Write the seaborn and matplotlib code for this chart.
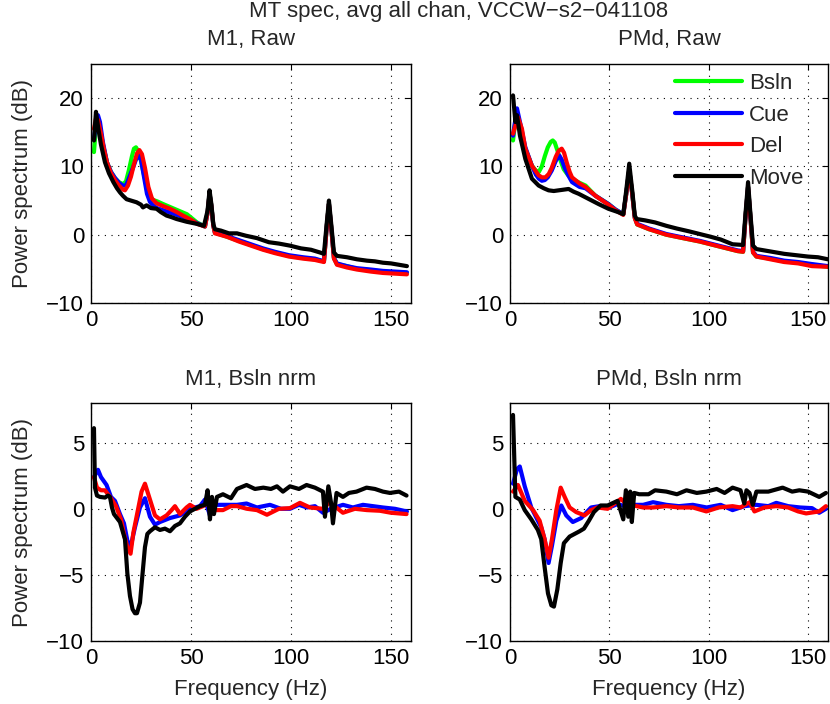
import seaborn as sns
import matplotlib
matplotlib.use('Agg')
import matplotlib.pyplot as plt

sns.set_style('white')
plt.rcParams['font.family'] = ['Liberation Sans', 'DejaVu Sans']
plt.rcParams['font.size'] = 16


# ---- series names / colours
names = ['Bsln', 'Cue', 'Del', 'Move']
colors = {'Bsln': '#00ff00', 'Cue': '#0000ff', 'Del': '#ff0000', 'Move': '#000000'}

# ---- M1, Raw  (freq in Hz, power in dB)
raw_tail_f = [57, 58.3, 59.3, 60.2, 61.2, 62, 68, 74, 80, 86, 92, 99, 106, 112, 116.5, 118, 119, 120, 121.5,
              123, 128, 133, 140, 146, 152, 158]

m1_raw_bsln_f = [1.5, 2.5, 3, 4, 5, 6.5, 8, 10, 12, 14, 16, 17.5, 19, 20.5, 21.5, 22.5, 23.5, 25, 26.5, 28, 29.5,
                 31, 33, 36, 40, 44, 48, 53] + raw_tail_f
m1_raw_bsln_v = [12.1, 16.0, 17.5, 16.5, 14.5, 12.5, 10.6, 9.2, 8.3, 7.7, 7.4, 7.8, 9.5, 11.5, 12.6, 12.8, 12.3, 10.8,
                 8.8, 6.8, 5.6, 5.1, 4.9, 4.5, 4.0, 3.5, 3.0, 1.8,
                 1.2, 3.2, 6.0, 4.2, 1.3, 0.3, -0.3, -0.9, -1.5, -2.1, -2.6, -3.1, -3.4, -3.6, -3.9, 1.5, 4.5, 1.5,
                 -3.4, -4.3, -4.6, -5.0, -5.2, -5.4, -5.5, -5.6]

m1_raw_cue_f = [1.5, 2.5, 3.5, 4.5, 6, 8, 10, 12, 14, 16, 17.5, 19, 21, 22.5, 24, 25, 26.5, 28, 29.5, 31, 33, 37,
                42, 46, 50, 53] + raw_tail_f
m1_raw_cue_v = [14.0, 16.5, 17.5, 16.5, 13.5, 10.6, 9.2, 8.3, 7.6, 7.2, 7.2, 8.3, 9.8, 11.0, 11.6, 11.0, 8.5, 6.0,
                4.8, 4.3, 3.9, 3.5, 3.0, 2.6, 2.1, 1.7,
                1.2, 3.2, 6.0, 4.2, 1.3, 0.3, -0.2, -0.8, -1.4, -2.0, -2.5, -3.0, -3.3, -3.5, -3.9, 1.5, 4.5, 1.5,
                -3.4, -4.2, -4.6, -4.9, -5.1, -5.3, -5.4, -5.5]

m1_raw_del_f = [1.5, 2.5, 3.5, 5, 6.5, 8, 10, 12, 14, 16, 17, 18.5, 20, 21.5, 23, 24.2, 25.5, 27, 28.7, 30.5, 32.8,
                36, 39.5, 43, 46, 50, 53] + raw_tail_f
m1_raw_del_v = [15.5, 17.0, 16.8, 14.8, 12.5, 10.6, 9.0, 8.0, 7.2, 6.6, 6.5, 7.2, 8.5, 10.3, 11.9, 12.4, 11.8, 9.8,
                7.0, 5.3, 4.6, 4.2, 3.8, 3.3, 2.8, 2.2, 1.6,
                1.2, 3.2, 6.0, 4.2, 1.3, 0.2, -0.3, -1.0, -1.6, -2.2, -2.7, -3.2, -3.5, -3.7, -4.0, 1.5, 4.5, 1.5,
                -3.5, -4.4, -4.8, -5.1, -5.4, -5.6, -5.7, -5.8]

m1_raw_move_f = [1.5, 2.5, 3.7, 5, 7, 9, 11.2, 13, 14.5, 16, 17.8, 20, 22.8, 25, 26, 27.8, 30, 32.8, 35, 37.8, 40,
                 42.8, 47.8, 52.8, 56.5, 58.3, 59.3, 60.2, 61.2, 62, 65, 69, 73, 77.5, 83, 89, 94, 99.5, 105, 110,
                 114.5, 116.5, 118, 119, 120, 121.5, 123, 128, 133, 138, 142, 146, 150, 154, 158]
m1_raw_move_v = [13.8, 18.0, 15.5, 13.2, 10.6, 9.0, 7.7, 6.8, 6.2, 5.7, 5.2, 5.0, 4.75, 4.4, 4.0, 4.3, 3.9, 3.8,
                 3.3, 2.8, 2.6, 2.3, 1.9, 1.6, 1.3, 3.5, 6.5, 4.5, 1.5, 0.8, 0.6, 0.2, 0.2, -0.15, -0.5, -1.1, -1.3,
                 -1.6, -2.0, -2.2, -2.6, -2.8, 2.0, 5.0, 2.0, -2.6, -3.1, -3.3, -3.6, -3.8, -3.9, -4.1, -4.2, -4.4,
                 -4.6]

# ---- PMd, Raw
pmd_tail_f = [57, 58.5, 60, 61.5, 62.8, 64, 70, 78.7, 87, 95.5, 105, 114.6, 117.3, 118.5, 119.8, 121, 122.3, 124,
              131, 138, 145, 152, 160]

pmd_raw_bsln_f = [1.5, 3, 5, 7.7, 11, 13, 14.5, 16, 17.5, 19, 20.5, 21.5, 22.5, 24, 25.5, 27, 29, 31, 35, 38, 43,
                  49.5, 53] + pmd_tail_f
pmd_raw_bsln_v = [13.8, 17.5, 15.5, 12.6, 10.1, 9.4, 9.2, 10.0, 11.5, 12.8, 13.6, 13.8, 13.5, 12.2, 10.8, 9.6, 8.8,
                  8.2, 7.6, 7.2, 5.7, 4.5, 3.7,
                  3.0, 6.0, 9.5, 6.0, 2.5, 1.5, 0.8, 0.0, -0.5, -1.0, -1.7, -2.4, -2.5, 2.5, 7.0, 2.5, -2.6, -3.2,
                  -3.5, -3.9, -4.1, -4.4, -4.7]

pmd_raw_cue_f = [1.5, 3.5, 5, 7.7, 11, 13, 14.5, 16, 17.5, 19, 21, 23, 24.8, 26, 27.5, 29.5, 31.2, 35, 38, 43, 49.5,
                 53] + pmd_tail_f
pmd_raw_cue_v = [14.5, 18.5, 16.5, 12.8, 10.1, 8.8, 8.2, 7.9, 8.0, 8.4, 9.4, 10.8, 11.6, 11.0, 9.8, 8.6, 7.7, 7.0,
                 6.8, 5.7, 4.5, 3.7,
                 3.0, 6.0, 9.5, 6.0, 2.5, 1.6, 0.9, 0.1, -0.4, -0.9, -1.6, -2.3, -2.4, 2.5, 7.0, 2.5, -2.5, -3.1,
                 -3.4, -3.8, -4.0, -4.3, -4.6]

pmd_raw_del_f = [1.5, 4, 6, 7.7, 11, 14.4, 16, 17.8, 19.5, 21, 23, 24.5, 26, 27.2, 28.5, 30, 31.2, 35, 38, 43, 49.5,
                 53] + pmd_tail_f
pmd_raw_del_v = [14.8, 17.2, 15.5, 12.6, 10.1, 8.7, 8.4, 8.4, 8.9, 9.8, 11.4, 12.3, 12.6, 12.0, 10.6, 9.2, 8.4, 7.5,
                 7.0, 5.7, 4.4, 3.6,
                 2.9, 6.0, 9.5, 6.0, 2.4, 1.5, 0.8, 0.0, -0.5, -1.0, -1.7, -2.4, -2.5, 2.5, 7.0, 2.5, -2.6, -3.2,
                 -3.6, -4.0, -4.2, -4.6, -4.7]

pmd_raw_move_f = [1.5, 2.7, 3.5, 5, 7.7, 11, 14.4, 17, 19.4, 22, 24.5, 27, 29.5, 32, 34.5, 39.5, 44.5, 49.5, 54.5,
                  57, 58.5, 60, 61.5, 62.8, 63.7, 68, 73, 78.7, 84, 90, 95.5, 101, 106, 112, 117.3, 118.5, 119.8,
                  121, 122.3, 124, 130, 138, 144, 150, 155, 160]
pmd_raw_move_v = [20.4, 16.5, 17.5, 14.5, 11.1, 8.2, 7.2, 6.8, 6.5, 6.4, 6.5, 6.6, 6.7, 6.3, 6.0, 5.25, 4.5, 3.8,
                  3.3, 3.0, 6.5, 10.4, 6.5, 2.8, 2.3, 2.1, 1.8, 1.3, 0.9, 0.5, 0.1, -0.3, -0.7, -1.4, -1.5, 3.0,
                  7.7, 3.0, -1.6, -2.1, -2.4, -2.8, -3.0, -3.2, -3.3, -3.6]

# ---- M1, Bsln nrm
m1_nrm_cue_f = [1.5, 3.5, 5, 7.8, 10, 12, 14.5, 16.5, 18.2, 19.8, 22, 24.5, 27, 29.5, 32, 34.5, 39.5, 44.5, 49.5,
                54.5, 57, 59.5, 62, 66, 73, 77.8, 83, 89.5, 95, 99.5, 104, 108, 112, 116, 120, 126, 131, 136, 141,
                146, 152, 158]
m1_nrm_cue_v = [2.4, 2.95, 2.4, 1.8, 0.9, 0.6, -0.4, -1.1, -2.4, -2.9, -1.4, 0.1, 0.8, -0.6, -1.2, -1.0, -0.7, -0.5,
                0.0, 0.2, 0.7, -0.5, 0.3, 0.3, 0.3, 0.4, 0.1, 0.3, 0.0, 0.0, 0.3, 0.1, 0.2, -0.3, 0.0, 0.3, 0.1,
                0.3, 0.2, 0.1, 0.0, -0.2]

m1_nrm_del_f = [1.5, 3, 5, 7, 10, 12.5, 15, 16.8, 18.2, 19.8, 21.2, 22.8, 25.3, 27, 29.5, 32, 34.5, 37.8, 40.3, 42,
                44.5, 47.8, 49.5, 52.8, 56, 59.5, 62, 66, 70, 73, 78, 83, 88, 94, 99.5, 104.5, 109.5, 116, 119, 121,
                126, 132, 138, 144.5, 150, 157.8]
m1_nrm_del_v = [2.4, 1.6, 1.4, 1.4, 0.8, 0.2, -0.8, -2.1, -2.9, -3.4, -1.8, -0.6, 1.3, 1.9, 0.7, -0.5, -0.8, -0.5,
                -0.1, 0.2, -0.4, 0.1, 0.3, 0.0, 0.2, 0.5, -0.1, -0.1, 0.2, 0.2, 0.0, -0.1, -0.45, 0.0, 0.05, 0.45,
                0.1, 0.0, 0.45, 0.3, -0.3, 0.0, -0.1, -0.15, -0.3, -0.4]

m1_nrm_move_f = [1.5, 2, 3, 4.5, 7, 8.5, 9.5, 10.5, 11.5, 14.5, 17, 18.2, 19.5, 20.8, 22, 23, 24.5, 25.8, 27, 28.2,
                 29.5, 32, 34.5, 37, 39.5, 42, 44.5, 47, 49.5, 52, 54.5, 57, 58.3, 59.5, 60.5, 61.5, 63, 66, 70, 73,
                 77.8, 82, 86.2, 90, 93, 96, 99.5, 104, 107.8, 112, 116, 117, 118.7, 120, 121, 122.8, 126, 129,
                 132.8, 137.8, 142, 146, 149.5, 154, 157.8]
m1_nrm_move_v = [6.1, 1.6, 1.0, 0.9, 0.85, 1.0, 0.9, 0.1, -0.4, -1.0, -2.3, -4.9, -6.6, -7.6, -7.9, -7.9, -7.1, -4.9,
                 -2.9, -1.9, -1.7, -1.4, -1.6, -1.5, -1.7, -1.3, -1.1, -0.6, -0.2, 0.0, 0.2, 0.3, 1.4, -0.8, 0.9,
                 -0.4, 0.9, 1.1, 0.8, 1.5, 1.8, 1.5, 1.6, 1.5, 1.7, 1.3, 1.7, 1.5, 1.8, 1.6, 1.3, -0.6, 1.7, 0.5,
                 -1.1, 1.2, 0.9, 1.2, 1.3, 1.6, 1.5, 1.3, 1.2, 1.3, 1.0]

# ---- PMd, Bsln nrm
pmd_nrm_cue_f = [1.5, 3.5, 4.9, 7.4, 10.7, 14, 15.7, 17.4, 19.4, 21.1, 23.3, 25.8, 28.3, 31.6, 35.8, 40.8, 45, 50,
                 54, 58, 62, 67, 72, 78.7, 85, 92, 99, 106, 112, 118, 124, 130, 134, 140, 146, 152, 155.6, 159]
pmd_nrm_cue_v = [1.9, 3.0, 3.2, 1.7, 0.1, -0.9, -1.4, -2.3, -4.1, -2.8, -0.9, 0.25, -0.5, -1.0, -0.7, 0.1, 0.2, 0.1,
                 0.35, 0.2, 0.3, 0.3, 0.5, 0.3, 0.2, 0.3, 0.1, 0.3, -0.1, 0.2, 0.3, 0.2, 0.45, 0.2, 0.1, 0.05, -0.3,
                 0.0]

pmd_nrm_del_f = [1.5, 4, 7.4, 11.6, 14.9, 17.4, 19.4, 21.1, 23.3, 25.5, 27.5, 30, 33.3, 37.5, 40.8, 44, 49.1, 55.8,
                 59, 62, 67, 72, 78.7, 85, 92, 98.8, 105, 112, 116, 120.6, 123, 128, 134, 140, 145, 149, 155.6, 159]
pmd_nrm_del_v = [1.3, 1.8, 0.6, -0.1, -0.9, -2.3, -3.7, -2.3, -0.1, 1.6, 0.9, 0.1, -0.25, -0.5, -0.1, 0.1, 0.0, 0.75,
                 0.3, 0.25, 0.1, 0.1, 0.2, 0.1, 0.1, -0.2, 0.1, 0.2, 0.1, 0.5, -0.2, 0.1, 0.2, 0.1, -0.2, -0.35,
                 -0.2, 0.2]

pmd_nrm_move_f = [1.5, 2.7, 4.9, 7.4, 10.7, 14, 15.7, 17.4, 19.1, 20.8, 22.1, 23.8, 25.5, 27.1, 30, 32.5, 35, 37.2,
                  39.7, 42.2, 45.6, 49.1, 54.1, 57, 58.3, 59.5, 60.5, 61.3, 62.5, 65, 69.7, 73, 78.7, 84, 88.8, 94,
                  98.8, 104, 108, 112, 116, 117.9, 119, 120.5, 122.2, 124, 130, 137.2, 142, 145.6, 150, 155.6, 159]
pmd_nrm_move_v = [7.1, 0.9, 0.7, -0.1, -0.8, -1.6, -2.3, -4.4, -6.4, -7.3, -7.4, -6.1, -4.1, -2.6, -2.1, -1.9, -1.7,
                  -1.5, -0.9, -0.25, 0.25, 0.25, 0.6, -0.8, 1.4, -0.6, 1.3, -1.0, 1.2, 1.1, 1.1, 1.4, 1.3, 1.1, 1.4,
                  1.2, 1.3, 1.5, 1.2, 1.6, 1.4, 0.4, 1.4, 1.2, 0.3, 1.3, 1.3, 1.6, 1.3, 1.4, 1.3, 0.9, 1.2]

panels = [
    ('M1, Raw', [0.1096, 0.5696, 0.3855, 0.3395], (-10, 25), [-10, 0, 10, 20],
     [('Bsln', m1_raw_bsln_f, m1_raw_bsln_v), ('Cue', m1_raw_cue_f, m1_raw_cue_v),
      ('Del', m1_raw_del_f, m1_raw_del_v), ('Move', m1_raw_move_f, m1_raw_move_v)]),
    ('PMd, Raw', [0.6145, 0.5696, 0.383, 0.3395], (-10, 25), [-10, 0, 10, 20],
     [('Bsln', pmd_raw_bsln_f, pmd_raw_bsln_v), ('Cue', pmd_raw_cue_f, pmd_raw_cue_v),
      ('Del', pmd_raw_del_f, pmd_raw_del_v), ('Move', pmd_raw_move_f, pmd_raw_move_v)]),
    ('M1, Bsln nrm', [0.1096, 0.0895, 0.3855, 0.338], (-10, 8), [-10, -5, 0, 5],
     [('Cue', m1_nrm_cue_f, m1_nrm_cue_v), ('Del', m1_nrm_del_f, m1_nrm_del_v),
      ('Move', m1_nrm_move_f, m1_nrm_move_v)]),
    ('PMd, Bsln nrm', [0.6145, 0.0895, 0.383, 0.338], (-10, 8), [-10, -5, 0, 5],
     [('Cue', pmd_nrm_cue_f, pmd_nrm_cue_v), ('Del', pmd_nrm_del_f, pmd_nrm_del_v),
      ('Move', pmd_nrm_move_f, pmd_nrm_move_v)]),
]

fig = plt.figure(figsize=(8.3, 7.04), dpi=100)

for i, (title, pos, ylim, yticks, series) in enumerate(panels):
    ax = fig.add_axes(pos)
    for name, f, v in series:
        sns.lineplot(x=f, y=v, color=colors[name], lw=3.0, ax=ax, estimator=None,
                     sort=False, label=name if i == 1 else None, legend=False)
    ax.set_xlim(0, 160)
    ax.set_ylim(*ylim)
    ax.set_xticks([0, 50, 100, 150])
    ax.set_yticks(yticks)
    ax.grid(True, linestyle=(0, (1, 5)), color='black', lw=0.8)
    ax.tick_params(direction='in', length=4, width=0.8, top=True, right=True,
                   labelsize=16, pad=5, colors='black')
    for sp in ax.spines.values():
        sp.set_color('black')
        sp.set_linewidth(1.0)
    ax.set_title(title, fontsize=16, pad=14 if i < 2 else 13)
    if i % 2 == 0:
        ax.set_ylabel('Power spectrum (dB)', fontsize=16)
        ax.yaxis.set_label_coords(-0.18, 0.5)
    if i >= 2:
        ax.set_xlabel('Frequency (Hz)', fontsize=16, labelpad=7)
    if i == 1:
        ax.legend(loc='upper right', bbox_to_anchor=(0.95, 1.0), frameon=False,
                  handlelength=3.0, handletextpad=0.3, labelspacing=0.48,
                  borderaxespad=0.0, fontsize=16)

fig.text(0.552, 0.983, 'MT spec, avg all chan, VCCW\u2212s2\u2212041108', ha='center', va='center', fontsize=16)

fig.savefig('out.png', dpi=100)
